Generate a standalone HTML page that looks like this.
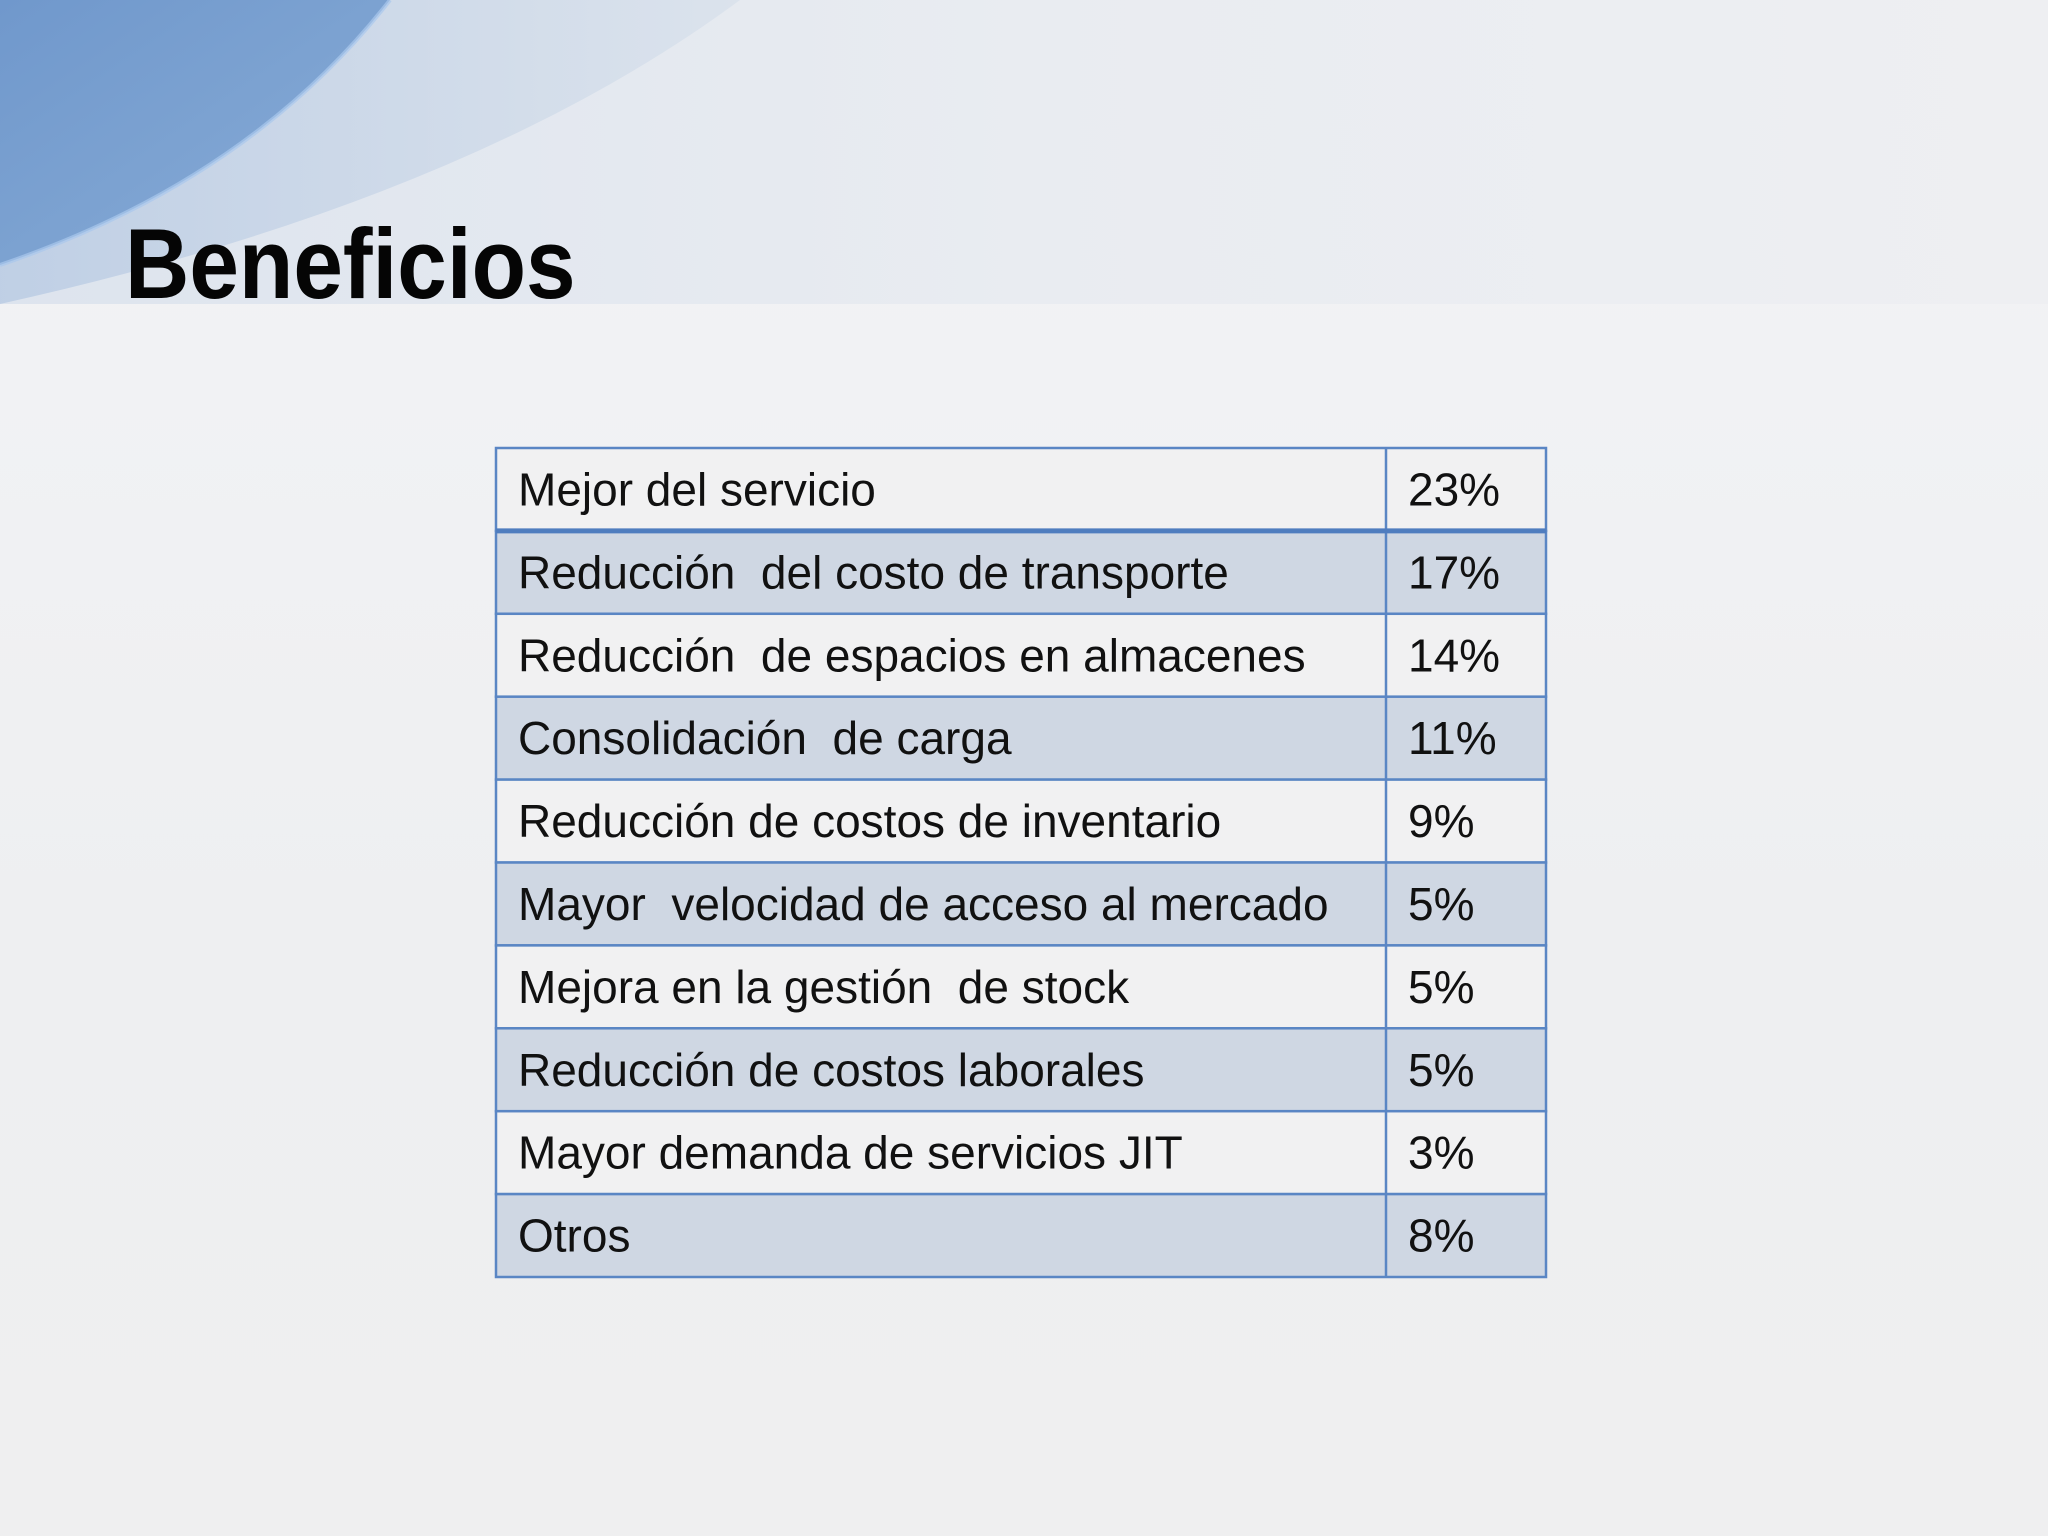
<!DOCTYPE html>
<html><head><meta charset="utf-8"><style>
html,body{margin:0;padding:0}
body{width:2048px;height:1536px;position:relative;overflow:hidden;background:linear-gradient(180deg,#f3f4f6 0%,#eeeff1 60%,#efeff0 100%);font-family:"Liberation Sans",sans-serif}
#band{position:absolute;left:0;top:0;width:2048px;height:304px}
#title{position:absolute;left:125px;top:214px;font-size:99px;font-weight:bold;color:#050505;transform:scaleX(0.9);transform-origin:left top;line-height:1}
#tbl{position:absolute;left:0;top:0}
#tbl text{white-space:pre}
</style></head><body>
<svg id="band" width="2048" height="304">
<defs>
<linearGradient id="bg" x1="0" y1="0" x2="1" y2="0"><stop offset="0" stop-color="#dde4ee"/><stop offset="0.5" stop-color="#e9ecf1"/><stop offset="1" stop-color="#eeeff2"/></linearGradient>
<linearGradient id="sw1" x1="0" y1="0" x2="1" y2="1"><stop offset="0" stop-color="#7098cc"/><stop offset="1" stop-color="#88acd6"/></linearGradient>
<linearGradient id="sw2" x1="0" y1="0" x2="1" y2="0"><stop offset="0" stop-color="#bccde4"/><stop offset="1" stop-color="#dae2ec"/></linearGradient>
</defs>
<rect width="2048" height="304" fill="url(#bg)"/>
<path d="M0,0 L740,0 Q470,200 0,304 Z" fill="url(#sw2)" opacity="0.9"/>
<path d="M0,0 L390,0 Q250,180 0,265 Z" fill="url(#sw1)"/>
<path d="M390,0 Q250,180 0,265" fill="none" stroke="#a9c8ec" stroke-width="4" opacity="0.7"/>
</svg>
<div id="title">Beneficios</div>
<svg id="tbl" width="2048" height="1536"></svg>
<script>
const labels=["Mejor del servicio","Reducción  del costo de transporte","Reducción  de espacios en almacenes","Consolidación  de carga","Reducción de costos de inventario","Mayor  velocidad de acceso al mercado","Mejora en la gestión  de stock","Reducción de costos laborales","Mayor demanda de servicios JIT","Otros"];
const values=["23%","17%","14%","11%","9%","5%","5%","5%","3%","8%"];
const svg=document.getElementById('tbl');
const NS='http://www.w3.org/2000/svg';
const L=496,R=1546,D=1386,T=448,H=82.9;
labels.forEach((lab,i)=>{
  const y=T+i*H;
  const r=document.createElementNS(NS,'rect');
  
  
  r.setAttribute('x',L);r.setAttribute('y',y);r.setAttribute('width',R-L);r.setAttribute('height',H);
  r.setAttribute('fill',i%2?'#cfd7e3':'#f1f1f2');r.setAttribute('stroke','#5a86c4');r.setAttribute('stroke-width','2.5');
  svg.appendChild(r);
  const t=document.createElementNS(NS,'text');
  
  
  t.setAttribute('x',518);t.setAttribute('y',y+H/2+16);t.setAttribute('font-size','46');t.setAttribute('fill','#111');
  t.setAttribute('font-family','"Liberation Sans", sans-serif');
  t.textContent=lab;svg.appendChild(t);
  const v=document.createElementNS(NS,'text');
  
  
  v.setAttribute('x',1408);v.setAttribute('y',y+H/2+16);v.setAttribute('font-size','46');v.setAttribute('fill','#111');
  v.setAttribute('font-family','"Liberation Sans", sans-serif');
  v.textContent=values[i];svg.appendChild(v);
});
const dv=document.createElementNS(NS,'line');


dv.setAttribute('x1',D);dv.setAttribute('x2',D);dv.setAttribute('y1',T);dv.setAttribute('y2',T+labels.length*H);
dv.setAttribute('stroke','#5a86c4');dv.setAttribute('stroke-width','2.5');svg.appendChild(dv);
const hb=document.createElementNS(NS,'line');


hb.setAttribute('x1',L);hb.setAttribute('x2',R);hb.setAttribute('y1',T+H);hb.setAttribute('y2',T+H);
hb.setAttribute('stroke','#4f7dbf');hb.setAttribute('stroke-width','5');svg.appendChild(hb);
</script>
</body></html>
